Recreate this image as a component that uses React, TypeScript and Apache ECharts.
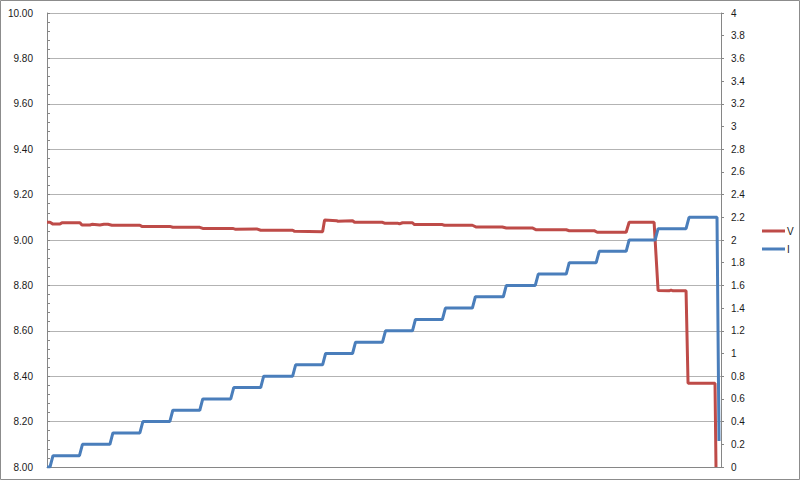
import React, { useEffect, useRef } from "react";
import * as echarts from "echarts";

// Time axis (arbitrary sample units, no labels shown)
const timeV = [0, 6, 12, 26, 30, 66, 70, 86, 90, 106, 114, 122, 130, 186, 190, 246, 252, 306, 312, 372, 378, 420, 428, 492, 496, 552, 556, 580, 582, 612, 616, 672, 676, 702, 706, 712, 732, 736, 792, 796, 852, 860, 912, 920, 972, 980, 1040, 1046, 1096, 1102, 1160, 1166, 1216, 1224, 1246, 1250, 1254, 1280, 1284, 1338, 1340];
const voltageV = [9.078, 9.078, 9.07, 9.07, 9.076, 9.076, 9.066, 9.066, 9.069, 9.066, 9.069, 9.069, 9.065, 9.065, 9.06, 9.06, 9.056, 9.056, 9.051, 9.051, 9.047, 9.049, 9.043, 9.043, 9.038, 9.036, 9.088, 9.085, 9.083, 9.085, 9.078, 9.078, 9.074, 9.074, 9.071, 9.076, 9.076, 9.068, 9.068, 9.065, 9.065, 9.057, 9.057, 9.053, 9.053, 9.045, 9.045, 9.041, 9.041, 9.034, 9.034, 9.078, 9.078, 8.777, 8.776, 8.779, 8.776, 8.776, 8.369, 8.369, 8.0];

const timeI = [0, 6, 12, 65, 71, 126, 132, 186, 192, 246, 252, 306, 312, 368, 374, 428, 434, 492, 498, 552, 558, 612, 618, 672, 678, 732, 738, 792, 798, 852, 858, 914, 920, 978, 984, 1040, 1046, 1100, 1106, 1160, 1166, 1218, 1224, 1280, 1286, 1342, 1346];
const currentA = [0, 0, 0.1, 0.1, 0.2, 0.2, 0.3, 0.3, 0.4, 0.4, 0.5, 0.5, 0.6, 0.6, 0.7, 0.7, 0.8, 0.8, 0.9, 0.9, 1.0, 1.0, 1.1, 1.1, 1.2, 1.2, 1.3, 1.3, 1.4, 1.4, 1.5, 1.5, 1.6, 1.6, 1.7, 1.7, 1.8, 1.8, 1.9, 1.9, 2.0, 2.0, 2.1, 2.1, 2.2, 2.2, 0.23];

const seriesNames = ["V", "I"];
const seriesColors = ["#BE4B48", "#4A7EBB"];
const voltageAxis = { min: 8, max: 10, step: 0.2 };
const currentAxis = { min: 0, max: 4, step: 0.2 };
const timeMax = 1350;

export default function App() {
  const ref = useRef<HTMLDivElement>(null);
  useEffect(() => {
    if (!ref.current) return;
    const chart = echarts.init(ref.current, null, { renderer: "svg" });
    const font = "Liberation Sans";
    const axisGray = "#868686";
    chart.setOption({
      animation: false,
      backgroundColor: "#ffffff",
      textStyle: { fontFamily: font },
      grid: { left: 47, right: 79, top: 13, bottom: 13 },
      xAxis: {
        type: "value",
        min: 0,
        max: timeMax,
        axisLine: { show: true, lineStyle: { color: axisGray, width: 1 } },
        axisTick: { show: false },
        axisLabel: { show: false },
        splitLine: { show: false },
      },
      yAxis: [
        {
          type: "value",
          position: "left",
          min: voltageAxis.min,
          max: voltageAxis.max,
          interval: voltageAxis.step,
          axisLine: { show: true, lineStyle: { color: axisGray } },
          axisTick: { show: true, inside: true, length: 3, lineStyle: { color: axisGray } },
          minorTick: { show: true, splitNumber: 5, length: 3, lineStyle: { color: axisGray } },
          axisLabel: {
            formatter: (v: number) => v.toFixed(2),
            color: "#1a1a1a",
            fontSize: 10,
            fontFamily: font,
            margin: 14,
          },
          splitLine: { show: true, lineStyle: { color: "#b3b3b3", width: 1 } },
        },
        {
          type: "value",
          position: "right",
          min: currentAxis.min,
          max: currentAxis.max,
          interval: currentAxis.step,
          axisLine: { show: true, lineStyle: { color: axisGray } },
          axisTick: { show: true, inside: false, length: 3, lineStyle: { color: axisGray } },
          axisLabel: {
            formatter: (v: number) => String(parseFloat(v.toFixed(1))),
            color: "#1a1a1a",
            fontSize: 10,
            fontFamily: font,
            margin: 10,
          },
          splitLine: { show: false },
        },
      ],
      legend: {
        orient: "vertical",
        left: 757,
        top: 221,
        itemWidth: 23,
        itemHeight: 3,
        itemGap: 8,
        icon: "rect",
        textStyle: { fontSize: 10, color: "#1a1a1a", fontFamily: font, padding: [0, 0, 0, -3] },
        data: seriesNames,
      },
      graphic: [
        {
          type: "rect",
          shape: { x: 0.5, y: 0.5, width: 799, height: 479 },
          style: { fill: "none", stroke: "#8c8c8c", lineWidth: 1 },
          silent: true,
        },
      ],
      series: [
        {
          name: seriesNames[0],
          type: "line",
          yAxisIndex: 0,
          showSymbol: false,
          color: seriesColors[0],
          lineStyle: { width: 3, color: seriesColors[0] },
          data: timeV.map((t, i) => [t, voltageV[i]]),
        },
        {
          name: seriesNames[1],
          type: "line",
          yAxisIndex: 1,
          showSymbol: false,
          color: seriesColors[1],
          lineStyle: { width: 3, color: seriesColors[1] },
          data: timeI.map((t, i) => [t, currentA[i]]),
        },
      ],
    });
    return () => chart.dispose();
  }, []);
  return (
    <div
      ref={ref}
      style={{ position: "fixed", left: 0, top: 0, width: 800, height: 480 }}
    />
  );
}
